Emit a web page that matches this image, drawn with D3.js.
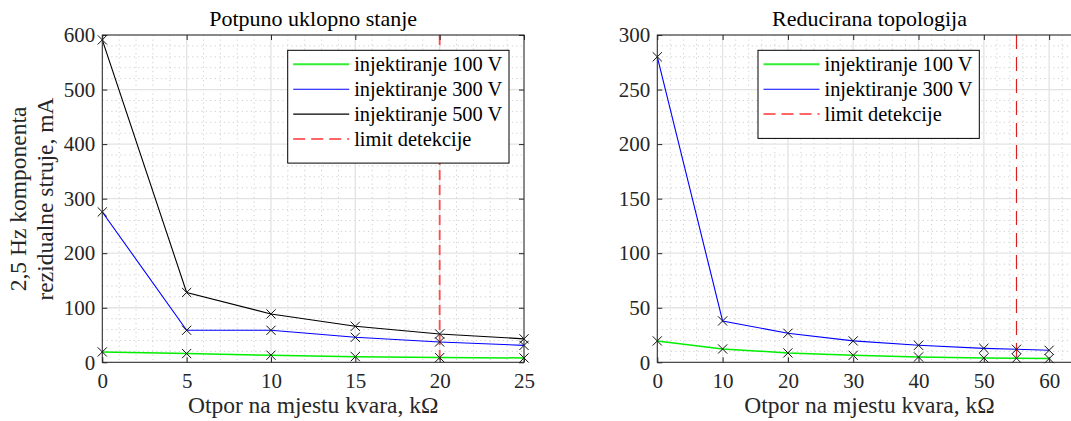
<!DOCTYPE html>
<html>
<head>
<meta charset="utf-8">
<script src="https://cdn.jsdelivr.net/npm/d3@7"></script>
<style>
  body { margin: 0; background: #fff; }
  text { font-family: "Liberation Serif", "Times New Roman", serif; fill: #262626; }
</style>
</head>
<body>
<svg id="chart" width="1071" height="421"></svg>
<script>
// ---- data ----
// left panel: Potpuno uklopno stanje
var leftX = [0, 5, 10, 15, 20, 25];
var left100 = [19, 16, 13, 10.4, 8.6, 8];
var left300 = [275.6, 58.7, 58.7, 45.8, 37.3, 31];
var left500 = [591, 128, 88.6, 66, 52, 43];
var leftLimit = 20;
var leftXTicks = [0, 5, 10, 15, 20, 25];
var leftYTicks = [0, 100, 200, 300, 400, 500, 600];

// right panel: Reducirana topologija
var rightX = [0, 10, 20, 30, 40, 50, 55, 60];
var right100 = [19.6, 12.2, 8.6, 6.4, 4.9, 4, 3.7, 3.4];
var right300 = [280, 37.9, 26.6, 19.6, 15.6, 12.8, 11.9, 11];
var rightLimit = 55;
var rightXTicks = [0, 10, 20, 30, 40, 50, 60];
var rightYTicks = [0, 50, 100, 150, 200, 250, 300];

var svg = d3.select("#chart");
var plotTop = 35, plotBottom = 362.3;
var serif = "Liberation Serif, Times New Roman, serif";

function drawPanel(cfg) {
  var x = d3.scaleLinear().domain(cfg.xDomain).range([cfg.x0, cfg.x1]);
  var y = d3.scaleLinear().domain(cfg.yDomain).range([plotBottom, plotTop]);
  var g = svg.append("g");

  g.append("clipPath").attr("id", cfg.id + "-clip")
    .append("rect")
    .attr("x", cfg.x0).attr("y", plotTop)
    .attr("width", cfg.x1 - cfg.x0).attr("height", plotBottom - plotTop);

  // minor grid (dotted)
  var xMinor = d3.range(cfg.xDomain[0], cfg.xDomain[1] + 1e-9, cfg.xMinor)
    .filter(function(v) { return cfg.xTicks.indexOf(v) < 0; });
  var yMinor = d3.range(cfg.yDomain[0], cfg.yDomain[1] + 1e-9, cfg.yMinor)
    .filter(function(v) { return cfg.yTicks.indexOf(v) < 0; });
  g.selectAll(".mgx").data(xMinor).enter().append("line")
    .attr("x1", d => x(d)).attr("x2", d => x(d))
    .attr("y1", plotTop).attr("y2", plotBottom)
    .attr("stroke", "#cfcfcf").attr("stroke-dasharray", "1.2,3.3");
  g.selectAll(".mgy").data(yMinor).enter().append("line")
    .attr("x1", cfg.x0).attr("x2", cfg.x1)
    .attr("y1", d => y(d)).attr("y2", d => y(d))
    .attr("stroke", "#cfcfcf").attr("stroke-dasharray", "1.2,3.3");

  // major grid
  g.selectAll(".gx").data(cfg.xTicks).enter().append("line")
    .attr("x1", d => x(d)).attr("x2", d => x(d))
    .attr("y1", plotTop).attr("y2", plotBottom)
    .attr("stroke", "#e3e3e3").attr("stroke-width", 1.3);
  g.selectAll(".gy").data(cfg.yTicks).enter().append("line")
    .attr("x1", cfg.x0).attr("x2", cfg.x1)
    .attr("y1", d => y(d)).attr("y2", d => y(d))
    .attr("stroke", "#e3e3e3").attr("stroke-width", 1.3);

  // data lines
  var line = d3.line().x(d => x(d[0])).y(d => y(d[1]));
  cfg.series.forEach(function(s) {
    var pts = cfg.xs.map(function(v, i) { return [v, s.values[i]]; });
    g.append("path").datum(pts)
      .attr("d", line)
      .attr("fill", "none")
      .attr("stroke", s.color)
      .attr("stroke-width", s.width)
      .attr("clip-path", "url(#" + cfg.id + "-clip)");
  });

  // detection limit
  g.append("line")
    .attr("x1", x(cfg.limit)).attr("x2", x(cfg.limit))
    .attr("y1", plotTop).attr("y2", plotBottom)
    .attr("stroke", cfg.limitColor).attr("stroke-width", cfg.limitWidth)
    .attr("stroke-dasharray", cfg.limitDash);

  // x markers
  cfg.series.forEach(function(s) {
    var pts = cfg.xs.map(function(v, i) { return [v, s.values[i]]; });
    g.selectAll(null).data(pts).enter().append("path")
      .attr("d", function(d) {
        var cx = x(d[0]), cy = y(d[1]), r = 4.6;
        return "M" + (cx - r) + "," + (cy - r) + "L" + (cx + r) + "," + (cy + r) +
               "M" + (cx - r) + "," + (cy + r) + "L" + (cx + r) + "," + (cy - r);
      })
      .attr("stroke", "#111").attr("stroke-width", 1).attr("fill", "none");
  });

  // axes (ticks pointing inward, box on)
  var axB = g.append("g").attr("transform", "translate(0," + plotBottom + ")")
    .call(d3.axisBottom(x).tickValues(cfg.xTicks).tickSize(-5).tickPadding(11));
  var axL = g.append("g").attr("transform", "translate(" + cfg.x0 + ",0)")
    .call(d3.axisLeft(y).tickValues(cfg.yTicks).tickSize(-5).tickPadding(7));
  g.append("g").attr("transform", "translate(0," + plotTop + ")")
    .call(d3.axisTop(x).tickValues(cfg.xTicks).tickSize(-5).tickFormat(""));
  g.append("g").attr("transform", "translate(" + cfg.x1 + ",0)")
    .call(d3.axisRight(y).tickValues(cfg.yTicks).tickSize(-5).tickFormat(""));
  [axB, axL].forEach(function(a) {
    a.attr("font-family", serif).attr("font-size", 21);
  });
  g.selectAll(".domain").remove();
  g.selectAll(".tick line").attr("stroke", "#262626");
  g.selectAll(".tick text").attr("fill", "#262626");
  g.append("rect")
    .attr("x", cfg.x0).attr("y", plotTop)
    .attr("width", cfg.x1 - cfg.x0).attr("height", plotBottom - plotTop)
    .attr("fill", "none").attr("stroke", "#262626").attr("stroke-width", 1);

  // title and x label
  var cx = (cfg.x0 + cfg.x1) / 2;
  g.append("text").attr("x", cx).attr("y", 26)
    .attr("text-anchor", "middle").style("font-size", "22px").style("fill", "#000")
    .text(cfg.title);
  g.append("text").attr("x", cx).attr("y", 413)
    .attr("text-anchor", "middle").style("font-size", "23.5px")
    .text("Otpor na mjestu kvara, kΩ");

  // legend
  var items = cfg.series.concat([{ name: "limit detekcije", color: "#ff6666", width: 2, dash: "12,6" }]);
  var lg = g.append("g");
  lg.append("rect")
    .attr("x", cfg.legX).attr("y", 50.3)
    .attr("width", cfg.legW).attr("height", 14 + items.length * 24.7)
    .attr("fill", "#fff").attr("stroke", "#000").attr("stroke-width", 1);
  items.forEach(function(s, i) {
    var ly = 64.3 + i * 24.9;
    lg.append("line")
      .attr("x1", cfg.legX + 5.5).attr("x2", cfg.legX + 61.5)
      .attr("y1", ly).attr("y2", ly)
      .attr("stroke", s.legendColor || s.color)
      .attr("stroke-width", s.legendWidth || s.width)
      .attr("stroke-dasharray", s.dash || null);
    lg.append("text")
      .attr("x", cfg.legX + 66.5).attr("y", ly + 7)
      .style("font-size", "20.4px").style("fill", "#000")
      .text(s.name);
  });
}

drawPanel({
  id: "left", title: "Potpuno uklopno stanje",
  x0: 102.3, x1: 524, xDomain: [0, 25], yDomain: [0, 600],
  xTicks: leftXTicks, yTicks: leftYTicks, xMinor: 1, yMinor: 20,
  xs: leftX,
  series: [
    { name: "injektiranje 100 V", values: left100, color: "#00ee00", width: 1.5, legendColor: "#33ee33", legendWidth: 2 },
    { name: "injektiranje 300 V", values: left300, color: "#0000ff", width: 1.1 },
    { name: "injektiranje 500 V", values: left500, color: "#000000", width: 1.1 }
  ],
  limit: leftLimit, limitColor: "#ff4d4d", limitWidth: 1.8, limitDash: "10,5",
  legX: 287.7, legW: 221.3
});

drawPanel({
  id: "right", title: "Reducirana topologija",
  x0: 657.3, x1: 1081.8, xDomain: [0, 65], yDomain: [0, 300],
  xTicks: rightXTicks, yTicks: rightYTicks, xMinor: 2, yMinor: 10,
  xs: rightX,
  series: [
    { name: "injektiranje 100 V", values: right100, color: "#00ee00", width: 1.5, legendColor: "#33ee33", legendWidth: 2 },
    { name: "injektiranje 300 V", values: right300, color: "#0000ff", width: 1.1 }
  ],
  limit: rightLimit, limitColor: "#d82020", limitWidth: 1.2, limitDash: "14,8",
  legX: 758, legW: 221.3
});

// y label (left panel only)
var ylab = svg.append("g");
ylab.append("text")
  .attr("transform", "translate(26,199) rotate(-90)")
  .attr("text-anchor", "middle").style("font-size", "23.5px")
  .text("2,5 Hz komponenta");
ylab.append("text")
  .attr("transform", "translate(53,199) rotate(-90)")
  .attr("text-anchor", "middle").style("font-size", "23.5px")
  .text("rezidualne struje, mA");
</script>
</body>
</html>
